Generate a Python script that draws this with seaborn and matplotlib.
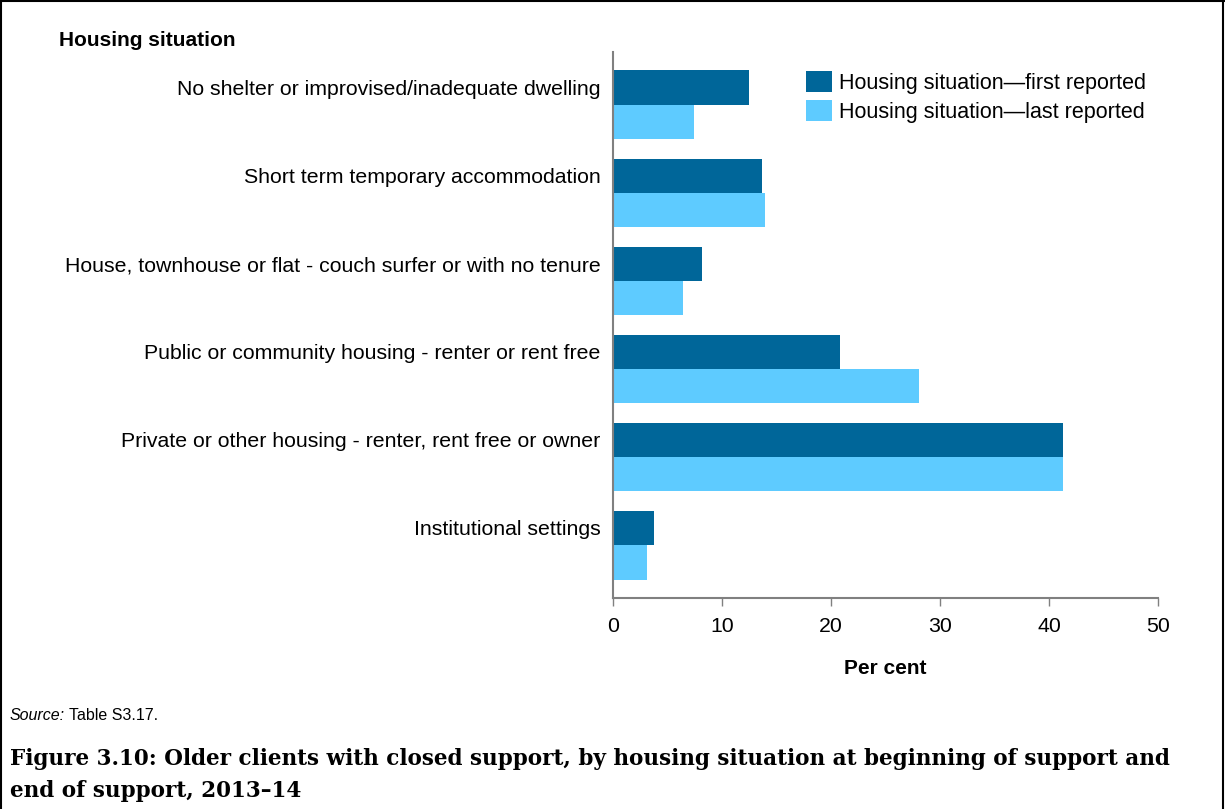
import matplotlib
matplotlib.use("Agg")
import matplotlib.pyplot as plt
from matplotlib.lines import Line2D
import pandas as pd
import seaborn as sns

categories = [
    "No shelter or improvised/inadequate dwelling",
    "Short term temporary accommodation",
    "House, townhouse or flat - couch surfer or with no tenure",
    "Public or community housing - renter or rent free",
    "Private or other housing - renter, rent free or owner",
    "Institutional settings",
]
first_reported = [12.5, 13.7, 8.2, 20.8, 41.3, 3.8]
last_reported = [7.4, 13.9, 6.4, 28.1, 41.3, 3.1]
series = ["Housing situation\u2014first reported", "Housing situation\u2014last reported"]
colors = ["#006699", "#5ECBFF"]

df = pd.DataFrame({
    "cat": categories * 2,
    "val": first_reported + last_reported,
    "series": [series[0]] * len(categories) + [series[1]] * len(categories),
})

sns.set_style("white")
plt.rcParams["font.family"] = ["Liberation Sans", "DejaVu Sans"]
plt.rcParams["text.color"] = "black"
plt.rcParams["xtick.color"] = "black"
plt.rcParams["ytick.color"] = "black"
plt.rcParams["axes.labelcolor"] = "black"

fig = plt.figure(figsize=(12.25, 8.09), dpi=100)
ax = fig.add_axes([613 / 1225, 1 - 598 / 809, 545 / 1225, 546 / 809])

bar_w = 0.78
sns.barplot(data=df, x="val", y="cat", hue="series", order=categories,
            hue_order=series, palette=colors, orient="h", width=bar_w,
            gap=0, saturation=1, ax=ax, linewidth=0)

ax.set_xlim(0, 50)
ax.set_ylim(5.6, -0.6)
ax.set_xticks([0, 10, 20, 30, 40, 50])
# labels sit level with the first-reported bar
ax.set_yticks([i - bar_w / 4 for i in range(len(categories))])
ax.set_yticklabels(categories)
ax.set_ylabel("")
ax.set_xlabel("Per cent", fontsize=15, fontweight="bold", labelpad=16)
ax.tick_params(axis="x", labelsize=15.3, length=6, width=1, color="#808080",
               direction="out", pad=8, bottom=True)
ax.tick_params(axis="y", labelsize=15.3, length=0, pad=9)
for s in ["top", "right"]:
    ax.spines[s].set_visible(False)
for s in ["left", "bottom"]:
    ax.spines[s].set_color("#808080")
    ax.spines[s].set_linewidth(1.5)

leg = ax.legend(loc="upper left", bbox_to_anchor=(0.335, 0.985), frameon=False,
                fontsize=15.5, handlelength=1.2, handleheight=1.15,
                handletextpad=0.3, labelspacing=0.28, borderpad=0)

fig.text(59 / 1225, 1 - 40 / 809, "Housing situation", fontsize=15,
         fontweight="bold", va="center", ha="left")

src = fig.text(10 / 1225, 1 - 716 / 809, "Source:", fontsize=11.5, style="italic",
               va="center", ha="left")
fig.add_artist(plt.Annotation("Table S3.17.", xy=(1, 0.5), xycoords=src,
                              xytext=(3, 0), textcoords="offset points",
                              fontsize=11.5, va="center", ha="left"))

fig.text(10 / 1225, 1 - 759 / 809,
         "Figure 3.10: Older clients with closed support, by housing situation at beginning of support and",
         fontsize=15.5, fontweight="bold", family="DejaVu Serif", va="center", ha="left")
fig.text(10 / 1225, 1 - 791 / 809, "end of support, 2013\u201314",
         fontsize=15.5, fontweight="bold", family="DejaVu Serif", va="center", ha="left")

# frame around figure (left, top, right)
fig.add_artist(Line2D([1 / 1225, 1 / 1225], [0, 1], color="black", lw=1.5, transform=fig.transFigure))
fig.add_artist(Line2D([0, 1], [1 - 1 / 809, 1 - 1 / 809], color="black", lw=1.5, transform=fig.transFigure))
fig.add_artist(Line2D([1 - 2 / 1225, 1 - 2 / 1225], [0, 1], color="black", lw=1.5, transform=fig.transFigure))

fig.savefig("out.png", dpi=100)
